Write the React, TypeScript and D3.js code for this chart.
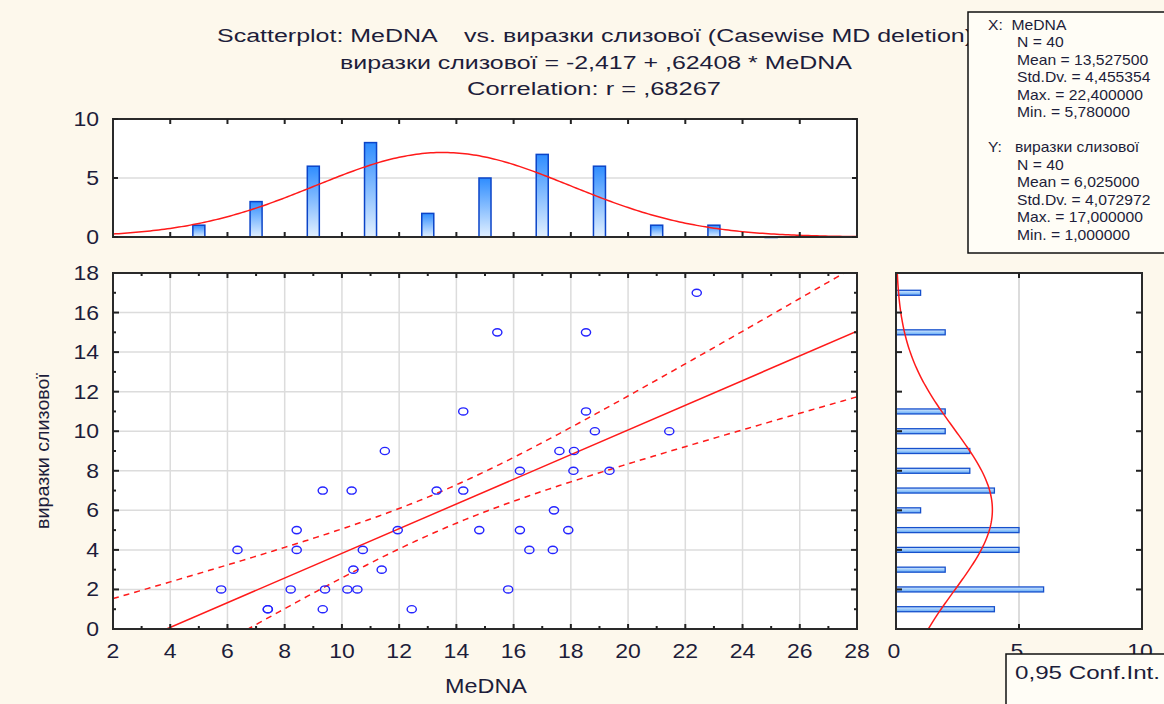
import React from "react";
import * as d3 from "d3";

// MeDNA vs. виразки слизової, 40 cases
const medna = [
  5.78, 6.35, 7.41, 7.41, 8.21, 8.42, 8.42, 9.33, 9.41, 9.33,
  10.19, 10.34, 10.4, 10.54, 10.73, 11.39, 11.5, 11.95, 12.44, 13.31,
  14.24, 14.24, 14.8, 15.43, 15.81, 16.22, 16.22, 16.55, 17.37, 17.41,
  17.6, 17.91, 18.11, 18.09, 18.53, 18.53, 18.84, 19.35, 21.44, 22.4,
];
const vyrazky = [
  2, 4, 1, 1, 2, 5, 4, 7, 2, 1,
  2, 7, 3, 2, 4, 3, 9, 5, 1, 7,
  11, 7, 5, 15, 2, 8, 5, 4, 4, 6,
  9, 5, 9, 8, 15, 11, 10, 8, 10, 17,
];

// Histogram of MeDNA (bin width 2)
const xBinCenters = [5, 7, 9, 11, 13, 15, 17, 19, 21, 23, 25];
const xBinCounts = [1, 3, 6, 8, 2, 5, 7, 6, 1, 1, 0];
const xBinWidth = 2;

// Histogram of виразки слизової (bin width 1)
const yBinCenters = [1, 2, 3, 4, 5, 6, 7, 8, 9, 10, 11, 15, 17];
const yBinCounts = [4, 6, 2, 5, 5, 1, 4, 3, 3, 2, 2, 2, 1];
const yBinWidth = 1;

// Descriptive statistics and regression
const N = 40;
const meanX = 13.5275;
const sdX = 4.455354;
const maxX = 22.4;
const minX = 5.78;
const meanY = 6.025;
const sdY = 4.072972;
const maxY = 17;
const minY = 1;
const intercept = -2.417;
const slope = 0.62408;
const rCorr = 0.68267;
const tCrit = 2.0244;

// Axis ticks
const xTicks = [2, 4, 6, 8, 10, 12, 14, 16, 18, 20, 22, 24, 26, 28];
const yTicks = [0, 2, 4, 6, 8, 10, 12, 14, 16, 18];
const topHistTicks = [0, 5, 10];
const rightHistTicks = [0, 5, 10];

const fmt = (v: number, d: number) => v.toFixed(d).replace(".", ",");
const fmtNoLead = (v: number, d: number) => fmt(v, d).replace(/^(-?)0,/, "$1,");

const BG = "#fdf8ec";
const INK = "#1d1d3a";
const GRID = "#dcdcdc";
const RED = "#ff1a1a";
const FONT = "'Liberation Sans', Arial, sans-serif";

function T({ x, y, children, anchor = "start", size = 20, sx = 1.15, rotate = 0, len }: any) {
  return (
    <text
      transform={`translate(${x},${y}) rotate(${rotate}) scale(${sx},1)`}
      textAnchor={anchor}
      fontSize={size}
      fontFamily={FONT}
      fill={INK}
      style={{ whiteSpace: "pre" }}
      textLength={len}
      lengthAdjust={len ? "spacingAndGlyphs" : undefined}
    >
      {children}
    </text>
  );
}

const normPdf = (v: number, m: number, s: number) =>
  Math.exp(-((v - m) ** 2) / (2 * s * s)) / (s * Math.sqrt(2 * Math.PI));

export default function App() {
  const W = 1164;
  const H = 704;

  // main scatter
  const x = d3.scaleLinear().domain([2, 28]).range([113, 857]);
  const y = d3.scaleLinear().domain([0, 18]).range([629, 273]);
  // top histogram
  const hy = d3.scaleLinear().domain([0, 10]).range([237, 119]);
  // right histogram
  const hx = d3.scaleLinear().domain([0, 10]).range([896, 1142]);

  const [pl, pr] = x.range();
  const [pb, pt] = y.range();
  const [hb, ht] = hy.range();
  const [rl, rr] = hx.range();

  // regression and 95% confidence band of the mean
  const Sxx = (N - 1) * sdX * sdX;
  const SSE = (1 - rCorr * rCorr) * (N - 1) * sdY * sdY;
  const sRes = Math.sqrt(SSE / (N - 2));
  const xs = d3.range(2, 28.001, 0.1);
  const fit = (v: number) => intercept + slope * v;
  const half = (v: number) => tCrit * sRes * Math.sqrt(1 / N + (v - meanX) ** 2 / Sxx);
  const line = d3.line<[number, number]>().x((d) => x(d[0])).y((d) => y(d[1]));
  const x0 = -intercept / slope;
  const regPath = line([[x0, 0], [28, fit(28)]]);
  const upperPath = line(xs.map((v) => [v, fit(v) + half(v)] as [number, number]));
  const lowerPath = line(xs.map((v) => [v, fit(v) - half(v)] as [number, number]));

  // fitted normal curves
  const topCurve = d3
    .line<number>()
    .x((v) => x(v))
    .y((v) => hy(N * xBinWidth * normPdf(v, meanX, sdX)))(xs);
  const ys = d3.range(0, 18.001, 0.1);
  const rightCurve = d3
    .line<number>()
    .x((v) => hx(N * yBinWidth * normPdf(v, meanY, sdY)))
    .y((v) => y(v))(ys);

  const minorX = d3.range(3, 28, 2);
  const minorY = d3.range(1, 18, 2);
  const barHalf = 0.21;

  const statsX = [
    ["X:  MeDNA", 988],
    [`N = ${N}`, 1017],
    [`Mean = ${fmt(meanX, 6)}`, 1017],
    [`Std.Dv. = ${fmt(sdX, 6)}`, 1017],
    [`Max. = ${fmt(maxX, 6)}`, 1017],
    [`Min. = ${fmt(minX, 6)}`, 1017],
  ] as [string, number][];
  const statsY = [
    ["Y:   виразки слизової", 988],
    [`N = ${N}`, 1017],
    [`Mean = ${fmt(meanY, 6)}`, 1017],
    [`Std.Dv. = ${fmt(sdY, 6)}`, 1017],
    [`Max. = ${fmt(maxY, 6)}`, 1017],
    [`Min. = ${fmt(minY, 6)}`, 1017],
  ] as [string, number][];

  return (
    <svg
      width={W}
      height={H}
      style={{ position: "absolute", left: 0, top: 0, display: "block" }}
    >
      <defs>
        <linearGradient id="barV" x1="0" y1="0" x2="0" y2="1">
          <stop offset="0%" stopColor="#2f8dff" />
          <stop offset="100%" stopColor="#e2f0ff" />
        </linearGradient>
        <linearGradient id="barH" x1="0" y1="0" x2="0" y2="1">
          <stop offset="0%" stopColor="#d8ebff" />
          <stop offset="100%" stopColor="#5fa8f5" />
        </linearGradient>
        <clipPath id="plotClip">
          <rect x={pl} y={pt} width={pr - pl} height={pb - pt} />
        </clipPath>
        <clipPath id="topClip">
          <rect x={pl} y={ht} width={pr - pl} height={hb - ht + 1} />
        </clipPath>
        <clipPath id="rightClip">
          <rect x={rl} y={pt} width={rr - rl} height={pb - pt} />
        </clipPath>
      </defs>
      <rect width={W} height={H} fill={BG} />

      {/* titles */}
      <T x={217} y={42} size={18} sx={1} len={756}>
        {"Scatterplot: MeDNA    vs. виразки слизової (Casewise MD deletion)"}
      </T>
      <T x={340} y={69} size={18} sx={1} len={512}>
        {`виразки слизової = ${fmt(intercept, 3)} + ${fmtNoLead(slope, 5)} * MeDNA`}
      </T>
      <T x={467} y={95} size={18} sx={1} len={254}>
        {`Correlation: r = ${fmtNoLead(rCorr, 5)}`}
      </T>

      {/* top histogram */}
      <rect x={pl} y={ht} width={pr - pl} height={hb - ht} fill="#fff" />
      <line x1={pl} x2={pr} y1={hy(5)} y2={hy(5)} stroke={GRID} strokeWidth={1.5} />
      {xBinCenters.map((c, i) => (
        <rect
          key={i}
          x={x(c - barHalf)}
          y={hy(xBinCounts[i])}
          width={x(c + barHalf) - x(c - barHalf)}
          height={Math.max(hb - hy(xBinCounts[i]), 0.5)}
          fill="url(#barV)"
          stroke="#0b44c8"
          strokeWidth={1.5}
        />
      ))}
      <path d={topCurve || ""} fill="none" stroke={RED} strokeWidth={1.5} clipPath="url(#topClip)" />
      <rect x={pl} y={ht} width={pr - pl} height={hb - ht} fill="none" stroke="#2a2a2a" strokeWidth={2} />
      {xTicks.slice(1, -1).map((t) => (
        <g key={t} stroke="#222" strokeWidth={2}>
          <line x1={x(t)} x2={x(t)} y1={ht} y2={ht + 5} />
          <line x1={x(t)} x2={x(t)} y1={hb} y2={hb - 5} />
        </g>
      ))}
      {topHistTicks.map((t) => (
        <g key={t} stroke="#222" strokeWidth={2}>
          <line x1={pl} x2={pl + 5} y1={hy(t)} y2={hy(t)} />
          <line x1={pr} x2={pr - 5} y1={hy(t)} y2={hy(t)} />
        </g>
      ))}
      {topHistTicks.map((t) => (
        <T key={t} x={99} y={hy(t) + 7} anchor="end">
          {String(t)}
        </T>
      ))}

      {/* scatter plot */}
      <rect x={pl} y={pt} width={pr - pl} height={pb - pt} fill="#fff" />
      <g stroke={GRID} strokeWidth={1.5}>
        {xTicks.slice(1, -1).map((t) => (
          <line key={"gx" + t} x1={x(t)} x2={x(t)} y1={pt} y2={pb} />
        ))}
        {yTicks.slice(1, -1).map((t) => (
          <line key={"gy" + t} x1={pl} x2={pr} y1={y(t)} y2={y(t)} />
        ))}
      </g>
      <g clipPath="url(#plotClip)" fill="none" stroke={RED} strokeWidth={1.5}>
        <path d={upperPath || ""} strokeDasharray="6,5" />
        <path d={lowerPath || ""} strokeDasharray="6,5" />
        <path d={regPath || ""} />
      </g>
      {medna.map((v, i) => (
        <ellipse
          key={i}
          cx={x(v)}
          cy={y(vyrazky[i])}
          rx={4.6}
          ry={3.6}
          fill="none"
          stroke="#2424ff"
          strokeWidth={1.4}
        />
      ))}
      <rect x={pl} y={pt} width={pr - pl} height={pb - pt} fill="none" stroke="#2a2a2a" strokeWidth={2} />
      <g stroke="#222" strokeWidth={2}>
        {xTicks.slice(1, -1).map((t) => (
          <g key={"tx" + t}>
            <line x1={x(t)} x2={x(t)} y1={pt} y2={pt + 5} />
            <line x1={x(t)} x2={x(t)} y1={pb} y2={pb - 5} />
          </g>
        ))}
        {minorX.map((t) => (
          <g key={"mx" + t}>
            <line x1={x(t)} x2={x(t)} y1={pt} y2={pt + 3} />
            <line x1={x(t)} x2={x(t)} y1={pb} y2={pb - 3} />
          </g>
        ))}
        {yTicks.slice(1, -1).map((t) => (
          <g key={"ty" + t}>
            <line x1={pl} x2={pl + 6} y1={y(t)} y2={y(t)} />
            <line x1={pr} x2={pr - 6} y1={y(t)} y2={y(t)} />
          </g>
        ))}
        {minorY.map((t) => (
          <g key={"my" + t}>
            <line x1={pl} x2={pl + 3} y1={y(t)} y2={y(t)} />
            <line x1={pr} x2={pr - 3} y1={y(t)} y2={y(t)} />
          </g>
        ))}
      </g>
      {xTicks.map((t) => (
        <T key={"lx" + t} x={x(t)} y={658} anchor="middle">
          {String(t)}
        </T>
      ))}
      {yTicks.map((t) => (
        <T key={"ly" + t} x={99} y={y(t) + 7} anchor="end">
          {String(t)}
        </T>
      ))}
      <T x={486} y={693} anchor="middle" sx={1.17}>
        MeDNA
      </T>
      <T x={49} y={451} anchor="middle" size={18} sx={1} rotate={-90} len={156}>
        виразки слизової
      </T>

      {/* right histogram */}
      <rect x={rl} y={pt} width={rr - rl} height={pb - pt} fill="#fff" />
      <line x1={hx(5)} x2={hx(5)} y1={pt} y2={pb} stroke={GRID} strokeWidth={2} />
      {yBinCenters.map((c, i) => (
        <rect
          key={i}
          x={rl}
          y={y(c) - 2.5}
          width={hx(yBinCounts[i]) - rl}
          height={5}
          fill="url(#barH)"
          stroke="#1650cc"
          strokeWidth={1.3}
        />
      ))}
      <path d={rightCurve || ""} fill="none" stroke={RED} strokeWidth={1.5} clipPath="url(#rightClip)" />
      <rect x={rl} y={pt} width={rr - rl} height={pb - pt} fill="none" stroke="#2a2a2a" strokeWidth={2} />
      <g stroke="#222" strokeWidth={2}>
        {yTicks.slice(1, -1).map((t) => (
          <g key={"ry" + t}>
            <line x1={rl} x2={rl + 6} y1={y(t)} y2={y(t)} />
            <line x1={rr} x2={rr - 6} y1={y(t)} y2={y(t)} />
          </g>
        ))}
        <line x1={hx(5)} x2={hx(5)} y1={pt} y2={pt + 5} />
        <line x1={hx(5)} x2={hx(5)} y1={pb} y2={pb - 5} />
      </g>
      {rightHistTicks.map((t) => (
        <T key={"rx" + t} x={hx(t) - 2} y={658} anchor="middle">
          {String(t)}
        </T>
      ))}

      {/* statistics box */}
      <rect x={968} y={12} width={220} height={241} fill="#fffdf6" stroke="#111" strokeWidth={1.5} />
      {statsX.map(([s, px], i) => (
        <T key={"sx" + i} x={px} y={30 + i * 17.4} size={14} sx={1.12}>
          {s}
        </T>
      ))}
      {statsY.map(([s, px], i) => (
        <T key={"sy" + i} x={px} y={152 + i * 17.5} size={14} sx={1.12}>
          {s}
        </T>
      ))}

      {/* legend box */}
      <rect x={1006} y={654} width={200} height={80} fill="#fffdf6" stroke="#111" strokeWidth={1.5} />
      <T x={1015} y={679} size={18} sx={1} len={145}>
        {`0,95 Conf.Int.`}
      </T>
    </svg>
  );
}
